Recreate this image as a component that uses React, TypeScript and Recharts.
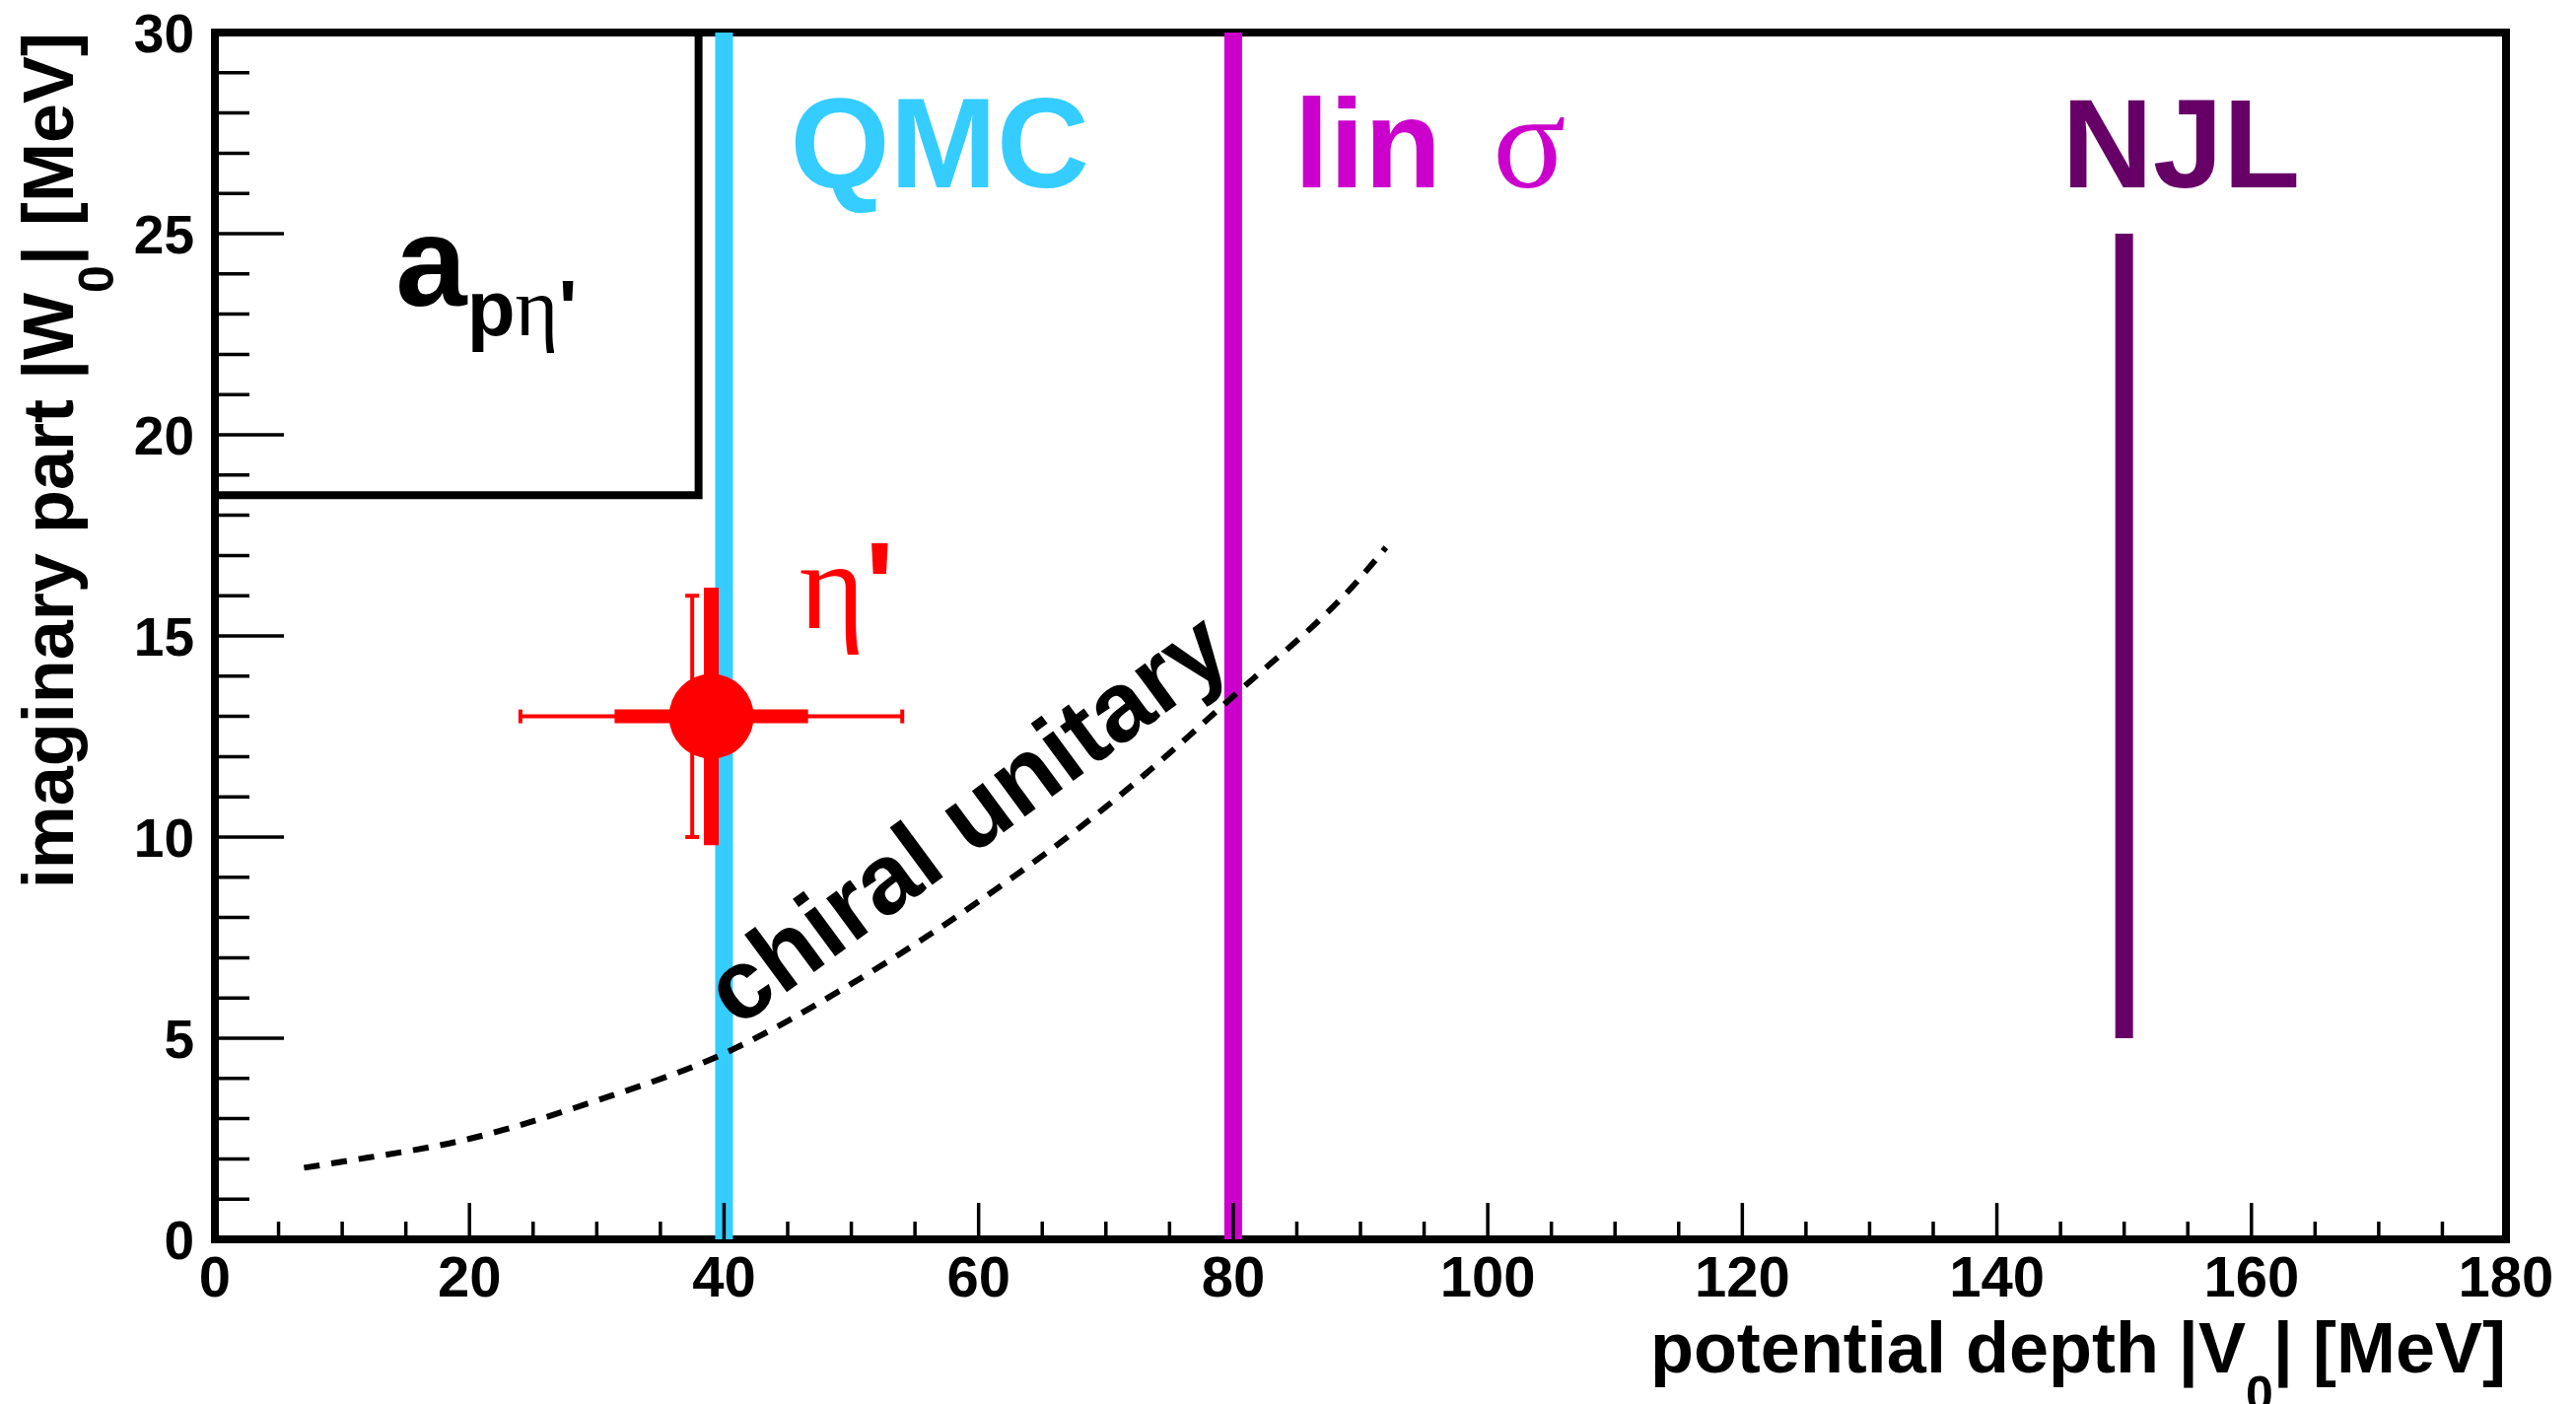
import React from 'react';
import {
  ComposedChart,
  XAxis,
  YAxis,
  Line,
  Scatter,
  ErrorBar,
  ReferenceLine,
  ReferenceArea,
  ReferenceDot,
} from 'recharts';

const SANS = "'Liberation Sans', Arial, Helvetica, sans-serif";
const SERIF = "'Liberation Serif', 'Times New Roman', Times, serif";

// ---- axes -------------------------------------------------------------
const xDomain: [number, number] = [0, 180];
const yDomain: [number, number] = [0, 30];
const xTicks = [0, 5, 10, 15, 20, 25, 30, 35, 40, 45, 50, 55, 60, 65, 70, 75, 80, 85, 90, 95, 100, 105, 110, 115, 120, 125, 130, 135, 140, 145, 150, 155, 160, 165, 170, 175, 180];
const xMajorStep = 20;
const yTicks = [0, 1, 2, 3, 4, 5, 6, 7, 8, 9, 10, 11, 12, 13, 14, 15, 16, 17, 18, 19, 20, 21, 22, 23, 24, 25, 26, 27, 28, 29, 30];
const yMajorStep = 5;

// ---- chiral unitary approach: |W0| versus |V0| -------------------------
const chiralV0 = [7, 10, 20, 30, 40, 50, 60, 70, 80, 90, 92];
const chiralW0 = [1.78, 1.93, 2.5, 3.45, 4.62, 6.35, 8.4, 10.75, 13.5, 16.45, 17.2];

// ---- model predictions for the real part -------------------------------
const qmcV0 = 40;
const linSigmaV0 = 80;
const njlV0 = 150;
const njlW0Range = [5, 25];

// ---- limit from the p-eta' scattering length ---------------------------
const aBoxV0 = [0, 38, 38];
const aBoxW0 = [18.5, 18.5, 30];

// ---- eta' measurement ----------------------------------------------------
const etaV0 = [39];
const etaW0 = [13];
const etaV0ErrInner = [7.6];
const etaV0ErrOuter = [15];
const etaW0ErrInner = [3.2];
const etaW0ErrOuter = [3];
const etaW0OuterAtV0 = [37.5];

const chiralData = chiralV0.map((v, i) => ({ v0: v, w0: chiralW0[i] }));
const aBoxData = aBoxV0.map((v, i) => ({ v0: v, w0: aBoxW0[i] }));
const etaData = etaV0.map((v, i) => ({
  v0: v,
  w0: etaW0[i],
  exInner: etaV0ErrInner[i],
  exOuter: etaV0ErrOuter[i],
  eyInner: etaW0ErrInner[i],
}));
const etaOuterYData = etaW0OuterAtV0.map((v, i) => ({
  v0: v,
  w0: etaW0[i],
  eyOuter: etaW0ErrOuter[i],
}));

const CYAN = '#35CDFF';
const MAGENTA = '#CC00CC';
const PURPLE = '#660066';
const RED = '#FF0000';

const TICK_W = 3.5;

const BottomTick = (p: any) => {
  const { x, y, payload } = p;
  const v = payload.value;
  const major = v % xMajorStep === 0;
  return (
    <g>
      <line x1={x} x2={x} y1={y} y2={y - (major ? 37 : 18)} stroke="#000" strokeWidth={TICK_W} />
      {major && (
        <text x={x} y={y + 58} textAnchor="middle" fontFamily={SANS} fontWeight="bold" fontSize={58} fill="#000">
          {v}
        </text>
      )}
    </g>
  );
};

const TopTick = (p: any) => {
  const { x, y, payload } = p;
  const major = payload.value % xMajorStep === 0;
  return <line x1={x} x2={x} y1={y} y2={y + (major ? 37 : 18)} stroke="#000" strokeWidth={TICK_W} />;
};

const LeftTick = (p: any) => {
  const { x, y, payload } = p;
  const v = payload.value;
  const major = v % yMajorStep === 0;
  return (
    <g>
      <line x1={x} x2={x + (major ? 70 : 35)} y1={y} y2={y} stroke="#000" strokeWidth={TICK_W} />
      {major && (
        <text x={x - 21} y={y + 20} textAnchor="end" fontFamily={SANS} fontWeight="bold" fontSize={55} fill="#000">
          {v}
        </text>
      )}
    </g>
  );
};

const RightTick = (p: any) => {
  const { x, y, payload } = p;
  const major = payload.value % yMajorStep === 0;
  return <line x1={x} x2={x - (major ? 70 : 35)} y1={y} y2={y} stroke="#000" strokeWidth={TICK_W} />;
};

const XTitle = (p: any) => {
  const { x, y, width } = p.viewBox;
  return (
    <text x={x + width} y={y + 135} textAnchor="end" fontFamily={SANS} fontWeight="bold" fontSize={72} fill="#000">
      potential depth |V
      <tspan dy={39} fontSize={50}>0</tspan>
      <tspan dy={-39}>| [MeV]</tspan>
    </text>
  );
};

const YTitle = (p: any) => {
  const { y } = p.viewBox;
  const bx = 74;
  return (
    <text
      x={bx}
      y={y}
      transform={`rotate(-90 ${bx} ${y})`}
      textAnchor="end"
      fontFamily={SANS}
      fontWeight="bold"
      fontSize={72}
      fill="#000"
    >
      imaginary part |W
      <tspan dy={41} fontSize={50}>0</tspan>
      <tspan dy={-41}>| [MeV]</tspan>
    </text>
  );
};

const QmcLabel = (p: any) => (
  <text x={p.viewBox.x} y={p.viewBox.y} fontFamily={SANS} fontWeight="bold" fontSize={130} fill={CYAN}>
    QMC
  </text>
);

const LinSigmaLabel = (p: any) => (
  <text x={p.viewBox.x} y={p.viewBox.y} fontFamily={SANS} fontWeight="bold" fontSize={128} fill={MAGENTA}>
    lin
    <tspan dx={52} fontFamily={SERIF} fontWeight="normal" fontSize={138}>σ</tspan>
  </text>
);

const NjlLabel = (p: any) => (
  <text x={p.viewBox.x} y={p.viewBox.y} fontFamily={SANS} fontWeight="bold" fontSize={128} fill={PURPLE}>
    NJL
  </text>
);

const ScatLenLabel = (p: any) => (
  <text x={p.viewBox.x} y={p.viewBox.y} fontFamily={SANS} fontWeight="bold" fontSize={130} fill="#000">
    a
    <tspan dy={30} fontSize={80}>p</tspan>
    <tspan fontFamily={SERIF} fontWeight="normal" fontSize={84}>η</tspan>
    <tspan fontSize={80}>'</tspan>
  </text>
);

const EtaLabel = (p: any) => (
  <text x={p.viewBox.x} y={p.viewBox.y} fontFamily={SERIF} fontSize={128} fill={RED}>
    η
    <tspan fontFamily={SANS} fontWeight="bold" fontSize={124}>'</tspan>
  </text>
);

const ChiralLabel = (p: any) => {
  const { x, y } = p.viewBox;
  return (
    <text
      x={x}
      y={y}
      transform={`rotate(-36.4 ${x} ${y})`}
      textAnchor="middle"
      fontFamily={SANS}
      fontWeight="bold"
      fontSize={100}
      fill="#000"
    >
      chiral unitary
    </text>
  );
};

const EtaMarker = (p: any) => <circle cx={p.cx} cy={p.cy} r={43} fill={RED} />;
const NoMarker = () => <g />;

const ids = { xAxisId: 'b', yAxisId: 'l' };

export default function App() {
  return (
    <div style={{ width: 2613, height: 1424, background: '#fff' }}>
      <style>{'html,body{margin:0;padding:0;overflow:hidden;background:#fff}'}</style>
      <ComposedChart width={2613} height={1424} margin={{ top: 32, right: 70, bottom: 166, left: 217 }}>
        <XAxis
          xAxisId="b"
          type="number"
          dataKey="v0"
          domain={xDomain}
          ticks={xTicks}
          interval={0}
          height={1}
          tickSize={0}
          tickMargin={0}
          axisLine={false}
          tickLine={false}
          tick={<BottomTick />}
          label={<XTitle />}
        />
        <XAxis
          xAxisId="t"
          orientation="top"
          type="number"
          domain={xDomain}
          ticks={xTicks}
          interval={0}
          height={1}
          tickSize={0}
          tickMargin={0}
          axisLine={false}
          tickLine={false}
          tick={<TopTick />}
        />
        <YAxis
          yAxisId="l"
          type="number"
          dataKey="w0"
          domain={yDomain}
          ticks={yTicks}
          interval={0}
          width={1}
          tickSize={0}
          tickMargin={0}
          axisLine={false}
          tickLine={false}
          tick={<LeftTick />}
          label={<YTitle />}
        />
        <YAxis
          yAxisId="r"
          orientation="right"
          type="number"
          domain={yDomain}
          ticks={yTicks}
          interval={0}
          width={1}
          tickSize={0}
          tickMargin={0}
          axisLine={false}
          tickLine={false}
          tick={<RightTick />}
        />

        <ReferenceLine {...ids} x={qmcV0} stroke={CYAN} strokeWidth={18} />
        <ReferenceLine {...ids} x={linSigmaV0} stroke={MAGENTA} strokeWidth={18} />
        <ReferenceLine
          {...ids}
          segment={[
            { x: njlV0, y: njlW0Range[0] },
            { x: njlV0, y: njlW0Range[1] },
          ]}
          stroke={PURPLE}
          strokeWidth={18}
        />

        <Line
          {...ids}
          data={aBoxData}
          dataKey="w0"
          type="linear"
          stroke="#000"
          strokeWidth={8}
          dot={false}
          activeDot={false}
          isAnimationActive={false}
        />
        <Line
          {...ids}
          data={chiralData}
          dataKey="w0"
          type="monotone"
          stroke="#000"
          strokeWidth={6}
          strokeDasharray="16 12"
          dot={false}
          activeDot={false}
          isAnimationActive={false}
        />

        <Scatter {...ids} data={etaOuterYData} dataKey="w0" shape={<NoMarker />} isAnimationActive={false}>
          <ErrorBar dataKey="eyOuter" direction="y" width={7} strokeWidth={4} stroke={RED} />
        </Scatter>
        <Scatter {...ids} data={etaData} dataKey="w0" shape={<EtaMarker />} isAnimationActive={false}>
          <ErrorBar dataKey="exOuter" direction="x" width={7} strokeWidth={4} stroke={RED} />
          <ErrorBar dataKey="exInner" direction="x" width={0} strokeWidth={14} stroke={RED} />
          <ErrorBar dataKey="eyInner" direction="y" width={0} strokeWidth={15} stroke={RED} />
        </Scatter>

        <ReferenceArea
          {...ids}
          x1={xDomain[0]}
          x2={xDomain[1]}
          y1={yDomain[0]}
          y2={yDomain[1]}
          ifOverflow="visible"
          fill="none"
          fillOpacity={0}
          stroke="#000"
          strokeWidth={8}
        />

        <ReferenceDot {...ids} x={45.2} y={26.15} r={0} fill="none" stroke="none" label={<QmcLabel />} />
        <ReferenceDot {...ids} x={84.8} y={26.15} r={0} fill="none" stroke="none" label={<LinSigmaLabel />} />
        <ReferenceDot {...ids} x={145.1} y={26.15} r={0} fill="none" stroke="none" label={<NjlLabel />} />
        <ReferenceDot {...ids} x={14.2} y={23.2} r={0} fill="none" stroke="none" label={<ScatLenLabel />} />
        <ReferenceDot {...ids} x={45.9} y={15.2} r={0} fill="none" stroke="none" label={<EtaLabel />} />
        <ReferenceDot {...ids} x={60.6} y={9.8} r={0} fill="none" stroke="none" label={<ChiralLabel />} />
      </ComposedChart>
    </div>
  );
}
